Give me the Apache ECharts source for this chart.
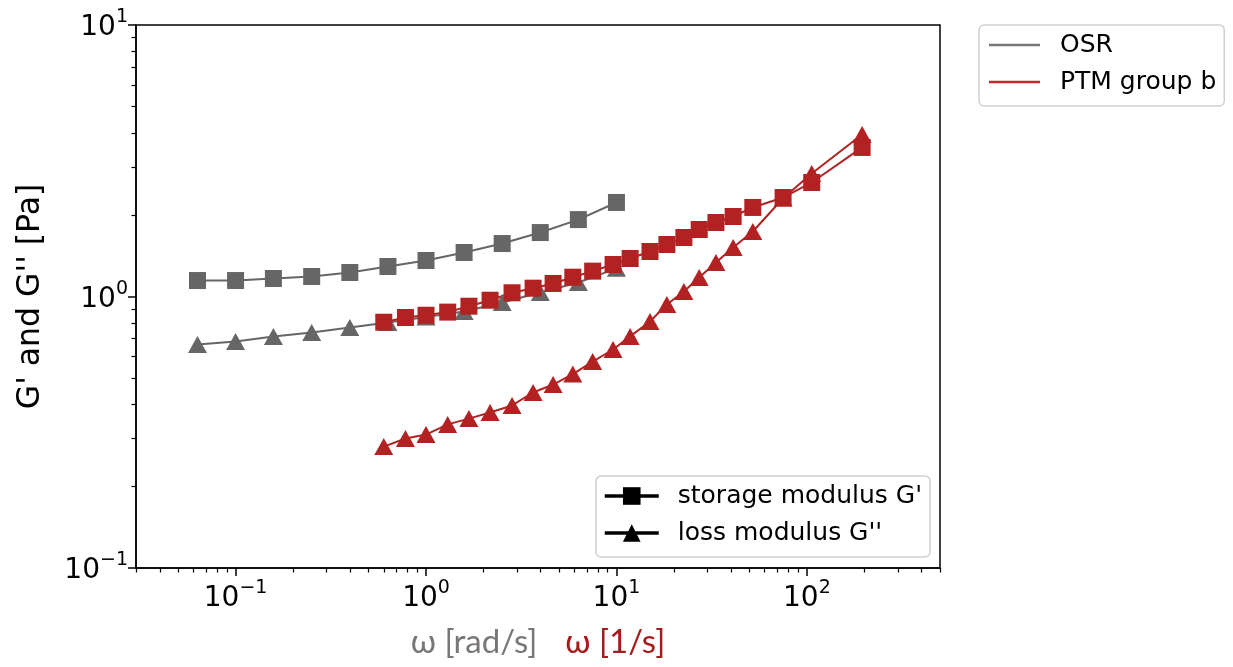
<!DOCTYPE html>
<html>
<head>
<meta charset="utf-8">
<script src="https://cdn.jsdelivr.net/npm/echarts@6/dist/echarts.min.js"></script>
<style>
  html, body { margin: 0; padding: 0; background: #fff; }
  #chart { width: 1233px; height: 667px; }
</style>
</head>
<body>
<div id="chart"></div>
<script>
// OSR, omega in rad/s
var osrOmega   = [0.0631, 0.1, 0.158, 0.251, 0.398, 0.631, 1, 1.585, 2.512, 3.981, 6.31, 10];
var osrStorage = [1.145, 1.145, 1.165, 1.185, 1.226, 1.29, 1.357, 1.452, 1.567, 1.72, 1.92, 2.22];
var osrLoss    = [0.666, 0.683, 0.712, 0.737, 0.769, 0.802, 0.84, 0.88, 0.95, 1.034, 1.126, 1.27];

// PTM group b, omega in 1/s
var ptmOmega   = [0.6, 0.78, 1.0, 1.3, 1.68, 2.17, 2.83, 3.65, 4.65, 5.9, 7.5, 9.6,
                  11.8, 15, 18.4, 22.6, 27.2, 33.3, 41, 52, 75, 106, 195];
var ptmStorage = [0.804, 0.837, 0.853, 0.876, 0.921, 0.969, 1.032, 1.073, 1.117, 1.178, 1.24, 1.312,
                  1.38, 1.465, 1.554, 1.649, 1.765, 1.873, 1.971, 2.128, 2.315, 2.63, 3.54];
var ptmLoss    = [0.28, 0.30, 0.31, 0.338, 0.355, 0.374, 0.397, 0.443, 0.474, 0.518, 0.576, 0.638,
                  0.713, 0.809, 0.934, 1.043, 1.175, 1.335, 1.515, 1.735, 2.30, 2.84, 3.95];

// axis ticks
var xMajor = [0.1, 1, 10, 100];
var yMajor = [0.1, 1, 10];
var xMinor = [0.03, 0.04, 0.05, 0.06, 0.07, 0.08, 0.09,
              0.2, 0.3, 0.4, 0.5, 0.6, 0.7, 0.8, 0.9,
              2, 3, 4, 5, 6, 7, 8, 9,
              20, 30, 40, 50, 60, 70, 80, 90,
              200, 300, 400, 500];
var yMinor = [0.2, 0.3, 0.4, 0.5, 0.6, 0.7, 0.8, 0.9,
              2, 3, 4, 5, 6, 7, 8, 9];

var GRAY = '#666666';
var RED = '#b22222';
var FONT = 'DejaVu Sans';

function pair(xs, ys) {
    return xs.map(function (x, i) { return [x, ys[i]]; });
}

function powLabel(v) {
    var e = Math.round(Math.log10(v));
    return '{b|10}{s|' + (e < 0 ? '\u2212' + (-e) : e) + '}';
}

var labelRich = {
    b: { fontFamily: FONT, fontSize: 28, color: '#000', lineHeight: 34, verticalAlign: 'bottom' },
    s: { fontFamily: FONT, fontSize: 19, color: '#000', lineHeight: 19, verticalAlign: 'top' }
};

var legendBox = {
    orient: 'vertical',
    selectedMode: false,
    borderColor: '#d0d0d0', borderWidth: 1.5, borderRadius: 5,
    backgroundColor: 'rgba(255,255,255,0.8)'
};

var myChart = echarts.init(document.getElementById('chart'));

option = {
    animation: false,
    backgroundColor: '#fff',
    grid: {
        left: 136, top: 25, width: 804, height: 543,
        show: true, borderColor: '#000', borderWidth: 1.5, backgroundColor: 'transparent'
    },
    xAxis: [
        {
            type: 'log', logBase: 10, min: 0.03, max: 500, position: 'bottom',
            axisLine: { lineStyle: { color: '#000', width: 1.5 } },
            axisTick: { length: 8, lineStyle: { color: '#000', width: 1.5 }, customValues: xMajor },
            axisLabel: { customValues: xMajor, formatter: powLabel, rich: labelRich, margin: 11 },
            splitLine: { show: false },
            name: '{a|ω [rad/s]}{g|}{c|ω [1/s]}',
            nameLocation: 'middle',
            nameGap: 58,
            nameTextStyle: {
                rich: {
                    a: { fontFamily: 'Lato', fontSize: 33, color: '#7a7676' },
                    g: { width: 28 },
                    c: { fontFamily: 'Lato', fontSize: 33, color: '#a51c1c' }
                }
            }
        },
        {
            type: 'log', logBase: 10, min: 0.03, max: 500, position: 'bottom', offset: 0,
            axisLine: { show: false },
            axisTick: { length: 4.5, lineStyle: { color: '#000', width: 1.2 }, customValues: xMinor },
            axisLabel: { show: false },
            splitLine: { show: false }
        }
    ],
    yAxis: [
        {
            type: 'log', logBase: 10, min: 0.1, max: 10, position: 'left',
            axisLine: { lineStyle: { color: '#000', width: 1.5 } },
            axisTick: { length: 8, lineStyle: { color: '#000', width: 1.5 }, customValues: yMajor },
            axisLabel: { customValues: yMajor, formatter: powLabel, rich: labelRich, margin: 8 },
            splitLine: { show: false },
            name: "G' and G'' [Pa]",
            nameLocation: 'middle',
            nameRotate: 90,
            nameGap: 89,
            nameTextStyle: { fontFamily: FONT, fontSize: 31.5, color: '#000' }
        },
        {
            type: 'log', logBase: 10, min: 0.1, max: 10, position: 'left', offset: 0,
            axisLine: { show: false },
            axisTick: { length: 4.5, lineStyle: { color: '#000', width: 1.2 }, customValues: yMinor },
            axisLabel: { show: false },
            splitLine: { show: false }
        }
    ],
    legend: [
        Object.assign({
            data: [{ name: 'OSR', icon: 'rect' }, { name: 'PTM group b', icon: 'rect' }],
            left: 979, top: 25,
            padding: [7, 8, 11, 10],
            itemWidth: 51, itemHeight: 2.5, itemGap: 11,
            textStyle: { fontFamily: FONT, fontSize: 25, lineHeight: 26, color: '#000', padding: [0, 0, 0, 15] }
        }, legendBox),
        Object.assign({
            data: ["storage modulus G'", "loss modulus G''"],
            left: 596, top: 476,
            padding: [7, 8, 11, 7],
            itemWidth: 54, itemHeight: 22, itemGap: 11,
            lineStyle: { width: 3.5 },
            textStyle: { fontFamily: FONT, fontSize: 25, lineHeight: 26, color: '#000', padding: [0, 0, 0, 14] }
        }, legendBox)
    ],
    series: [
        {
            name: 'osr storage', type: 'line', data: pair(osrOmega, osrStorage),
            symbol: 'rect', symbolSize: 17, color: GRAY,
            lineStyle: { color: GRAY, width: 2 }, itemStyle: { color: GRAY }
        },
        {
            name: 'osr loss', type: 'line', data: pair(osrOmega, osrLoss),
            symbol: 'triangle', symbolSize: [19, 17], color: GRAY,
            lineStyle: { color: GRAY, width: 2 }, itemStyle: { color: GRAY }
        },
        {
            name: 'ptm storage', type: 'line', data: pair(ptmOmega, ptmStorage),
            symbol: 'rect', symbolSize: 17, color: RED,
            lineStyle: { color: RED, width: 2 }, itemStyle: { color: RED }
        },
        {
            name: 'ptm loss', type: 'line', data: pair(ptmOmega, ptmLoss),
            symbol: 'triangle', symbolSize: [19, 17], color: RED,
            lineStyle: { color: RED, width: 2 }, itemStyle: { color: RED }
        },
        // legend-only entries
        { name: 'OSR', type: 'line', data: [], symbol: 'none', color: '#777777' },
        { name: 'PTM group b', type: 'line', data: [], symbol: 'none', color: '#c8262b' },
        { name: "storage modulus G'", type: 'line', data: [], symbol: 'rect', color: '#000', lineStyle: { color: '#000', width: 3.5 } },
        { name: "loss modulus G''", type: 'line', data: [], symbol: 'triangle', color: '#000', lineStyle: { color: '#000', width: 3.5 } }
    ]
};

myChart.setOption(option);
</script>
</body>
</html>
